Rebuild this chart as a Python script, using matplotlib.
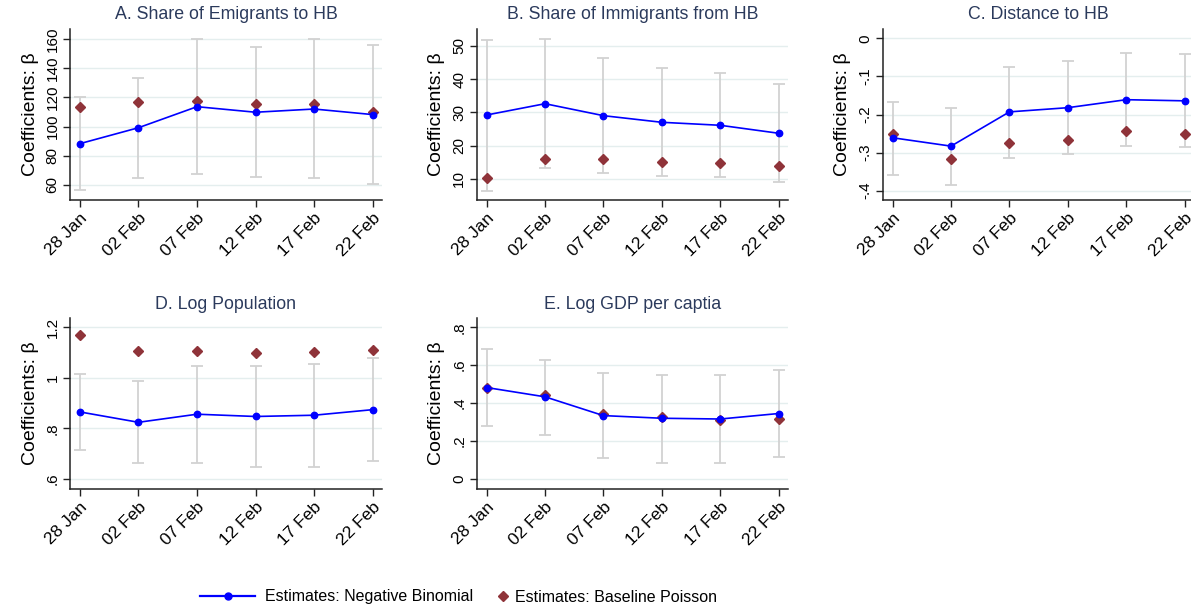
import matplotlib
matplotlib.use("Agg")
import matplotlib.pyplot as plt
from matplotlib.lines import Line2D
import numpy as np

plt.rcParams['font.family'] = ['Liberation Sans', 'DejaVu Sans']

dates = ["28 Jan", "02 Feb", "07 Feb", "12 Feb", "17 Feb", "22 Feb"]

# Panel A: Share of Emigrants to HB
nb_a = [88.3, 99.2, 113.6, 109.8, 112.0, 108.2]
lo_a = [56.4, 65.0, 67.7, 65.7, 64.8, 60.7]
hi_a = [120.3, 133.5, 159.8, 154.3, 159.7, 155.9]
po_a = [113.2, 117.0, 117.5, 115.3, 115.3, 109.8]

# Panel B: Share of Immigrants from HB
nb_b = [29.2, 32.6, 29.0, 27.0, 26.1, 23.7]
lo_b = [6.4, 13.2, 11.6, 10.7, 10.6, 8.9]
hi_b = [51.9, 52.1, 46.5, 43.4, 41.7, 38.5]
po_b = [10.1, 15.8, 16.0, 14.9, 14.7, 13.9]

# Panel C: Distance to HB
nb_c = [-0.261, -0.283, -0.193, -0.182, -0.161, -0.164]
lo_c = [-0.358, -0.384, -0.313, -0.304, -0.283, -0.286]
hi_c = [-0.166, -0.182, -0.074, -0.059, -0.038, -0.041]
po_c = [-0.252, -0.316, -0.275, -0.267, -0.242, -0.252]

# Panel D: Log Population
nb_d = [0.865, 0.824, 0.856, 0.847, 0.852, 0.874]
lo_d = [0.713, 0.663, 0.663, 0.647, 0.649, 0.671]
hi_d = [1.015, 0.986, 1.048, 1.046, 1.055, 1.077]
po_d = [1.168, 1.106, 1.105, 1.097, 1.101, 1.109]

# Panel E: Log GDP per capita
nb_e = [0.482, 0.433, 0.334, 0.320, 0.316, 0.345]
lo_e = [0.280, 0.232, 0.109, 0.086, 0.084, 0.114]
hi_e = [0.687, 0.629, 0.561, 0.550, 0.549, 0.573]
po_e = [0.478, 0.440, 0.341, 0.327, 0.313, 0.318]

titles = ["A. Share of Emigrants to HB", "B. Share of Immigrants from HB",
          "C. Distance to HB", "D. Log Population", "E. Log GDP per captia"]
yticks = [[60, 80, 100, 120, 140, 160],
          [10, 20, 30, 40, 50],
          [0, -0.1, -0.2, -0.3, -0.4],
          [0.6, 0.8, 1.0, 1.2],
          [0, 0.2, 0.4, 0.6, 0.8]]
ytick_labels = [["60", "80", "100", "120", "140", "160"],
                ["10", "20", "30", "40", "50"],
                ["0", "-.1", "-.2", "-.3", "-.4"],
                [".6", ".8", "1", "1.2"],
                ["0", ".2", ".4", ".6", ".8"]]
ylims = [(49.7, 166.8), (3.6, 55.1), (-0.4245, 0.0247), (0.560, 1.2356), (-0.053, 0.847)]

panels = [(nb_a, lo_a, hi_a, po_a), (nb_b, lo_b, hi_b, po_b), (nb_c, lo_c, hi_c, po_c),
          (nb_d, lo_d, hi_d, po_d), (nb_e, lo_e, hi_e, po_e)]

W, H = 1191, 613
fig = plt.figure(figsize=(W / 100, H / 100), dpi=100)

# axes boxes in pixels: left, top, right, bottom
boxes = [(70, 29, 382, 200), (476.7, 29, 788, 200), (882.7, 29, 1194, 200),
         (70, 318.3, 382, 489), (476.7, 318.3, 788, 489)]

BLUE = "#0000ff"
RED = "#8f3339"
GREY = "#d2d2d2"
GRID = "#e4eeee"
TITLE = "#2b3a5c"

x = np.arange(len(dates))
for (l, t, r, b), (nb, lo, hi, po), title, yt, ytl, yl in zip(
        boxes, panels, titles, yticks, ytick_labels, ylims):
    ax = fig.add_axes([l / W, 1 - b / H, (r - l) / W, (b - t) / H])
    for yv in yt:
        ax.axhline(yv, color=GRID, lw=1.0, zorder=0)
    ax.errorbar(x, nb, yerr=[np.array(nb) - np.array(lo), np.array(hi) - np.array(nb)],
                fmt="none", ecolor=GREY, elinewidth=1.3, capsize=4, capthick=1.3, zorder=1)
    ax.plot(x, po, linestyle="none", marker="D", ms=4.6, color=RED, zorder=2)
    ax.plot(x, nb, color=BLUE, lw=1.2, marker="o", ms=4.6, zorder=3)
    ax.set_xlim(-0.17, 5.16)
    ax.set_ylim(*yl)
    ax.set_yticks(yt)
    ax.set_yticklabels(ytl, rotation=90, va="center", fontsize=11)
    ax.set_xticks(x)
    ax.set_xticklabels(dates, rotation=45, ha="right", rotation_mode="anchor", fontsize=12.5)
    ax.tick_params(axis="both", length=5, width=1, color="#222222", pad=2.5)
    for s in ("top", "right"):
        ax.spines[s].set_visible(False)
    for s in ("left", "bottom"):
        ax.spines[s].set_linewidth(1.1)
        ax.spines[s].set_color("#222222")
    ax.set_title(title, color=TITLE, fontsize=12.8, pad=7)
    ax.set_ylabel("Coefficients: β", fontsize=14, labelpad=5)

# two legend entries, laid out side by side below the panels
leg_y = 1 - 597 / H
fig.legend([Line2D([0], [0], color=BLUE, lw=1.6, marker="o", ms=5)],
           ["Estimates: Negative Binomial"], loc="center left",
           bbox_to_anchor=(200 / W, leg_y), frameon=False, fontsize=11.5,
           handlelength=3.45, handletextpad=0.62, borderpad=0, borderaxespad=0)
fig.legend([Line2D([0], [0], color=RED, linestyle="none", marker="D", ms=5)],
           ["Estimates: Baseline Poisson"], loc="center left",
           bbox_to_anchor=(497 / W, leg_y), frameon=False, fontsize=11.5,
           handlelength=0.8, handletextpad=0.35, borderpad=0, borderaxespad=0)

fig.savefig("out.png", dpi=100, facecolor="white")
